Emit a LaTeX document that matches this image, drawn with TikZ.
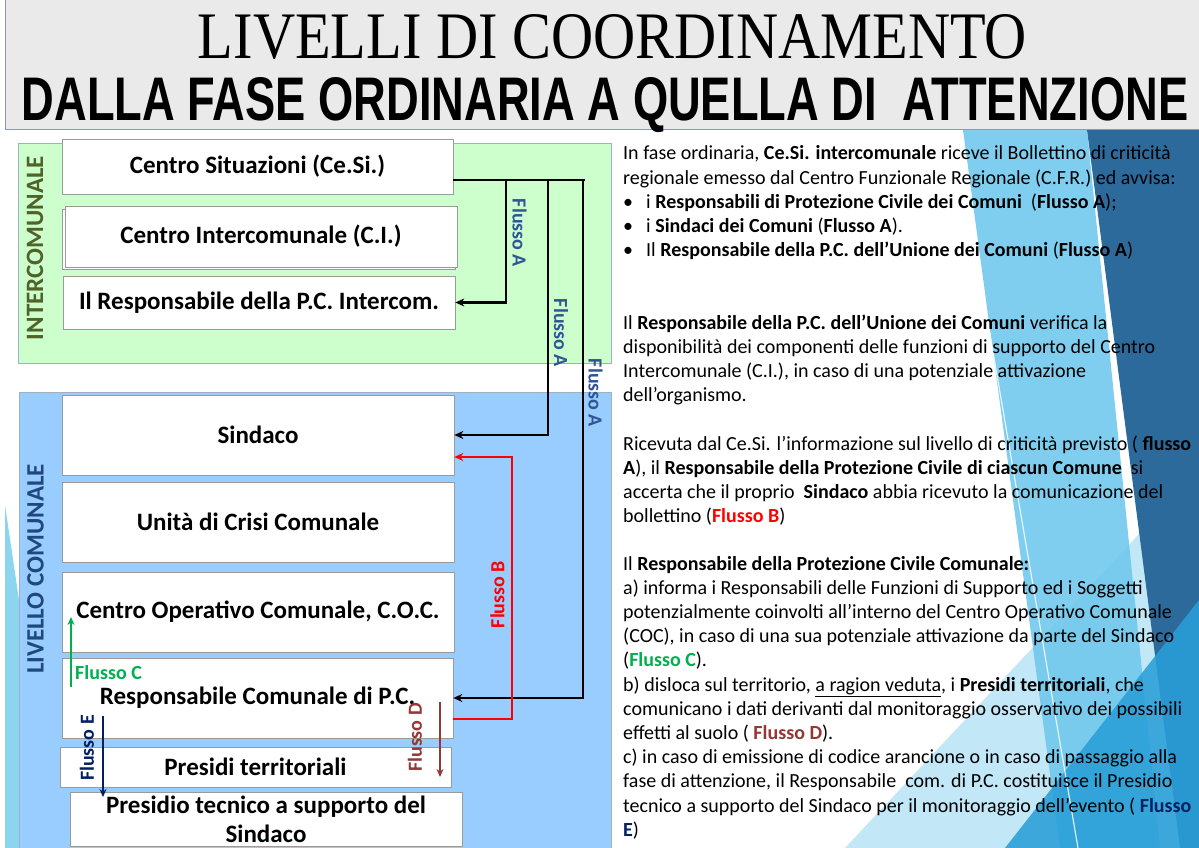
\documentclass[tikz,border=0pt]{standalone}
\usepackage{fontspec}
\usepackage{graphicx}
\setmainfont{Carlito}
\newfontfamily\titleserif{Liberation Serif}
\newfontfamily\titlesans{Liberation Sans}
\usetikzlibrary{arrows.meta,calc}
\definecolor{titlebg}{HTML}{EAEAEA}
\definecolor{titleline}{HTML}{8A9AB0}
\definecolor{greenfill}{HTML}{CCFFCC}
\definecolor{bluefill}{HTML}{99CCFF}
\definecolor{outerline}{HTML}{9DB0C6}
\definecolor{boxline}{HTML}{9A9A9A}
\definecolor{interc}{HTML}{4F6228}
\definecolor{livello}{HTML}{1F497D}
\definecolor{flowA}{HTML}{2F5597}
\definecolor{flowB}{HTML}{FF0000}
\definecolor{flowC}{HTML}{00B050}
\definecolor{flowD}{HTML}{953735}
\definecolor{flowE}{HTML}{002060}
\definecolor{decoWedge}{HTML}{C2E7F7}
\definecolor{decoBand}{HTML}{72C9EE}
\definecolor{decoMid}{HTML}{2A9FD8}
\definecolor{decoDark}{HTML}{2C6A9C}
\definecolor{decoLeft}{HTML}{8CD5EF}
\newcommand\mybullet{\makebox[23pt][l]{•}}
\begin{document}
\begin{tikzpicture}[x=1pt,y=-1pt,
  boxnode/.style={draw=boxline, fill=white, line width=0.7pt, inner sep=0pt,
    font=\bfseries\fontsize{25}{29}\selectfont, align=center},
  sidelabel/.style={rotate=90, inner sep=0pt, font=\bfseries\fontsize{25}{30}\selectfont},
  flowlabel/.style={inner sep=0pt, font=\bfseries\fontsize{20}{24}\selectfont},
  rtext/.style={anchor=base west, inner sep=0pt, font=\fontsize{20}{24.2}\selectfont},
  blackflow/.style={draw=black, line width=2.6pt, -{Stealth[length=9pt,width=8pt]}},
  redflow/.style={draw=flowB, line width=2.3pt, -{Stealth[length=9pt,width=8pt]}},
  thinflow/.style={line width=2pt, -{Stealth[length=8pt,width=7pt]}}
]
\useasboundingbox (0,0) rectangle (1199,848);
\fill[white] (0,0) rectangle (1199,848);

% background decorations
\fill[decoWedge] (845,848) -- (1199,470) -- (1199,848) -- cycle;
\fill[decoBand, opacity=0.9] (963,130) -- (1087,130) -- (1160,848) -- (1060,848) -- cycle;
\fill[decoDark] (1087,130) -- (1199,130) -- (1199,848) -- (1180,848) -- cycle;
\fill[decoMid, opacity=0.88] (1005,848) -- (1199,600) -- (1199,848) -- cycle;
\draw[white, line width=1.2pt, opacity=0.8] (955,130) -- (1078,848);
\fill[decoLeft] (5,505) -- (19,600) -- (19,848) -- (5,848) -- cycle;

% title bar
\fill[titlebg] (5,0) rectangle (1199,130);
\draw[titleline, line width=1pt] (5,0) -- (5,130) -- (1199,130);
\node[anchor=base, inner sep=0pt] (title1) at (612.5,59)
  {\resizebox{829pt}{44pt}{\titleserif LIVELLI DI COORDINAMENTO}};
\node[anchor=base, inner sep=0pt] (title2) at (605,121)
  {\resizebox{1166pt}{43pt}{\titlesans\bfseries DALLA FASE ORDINARIA A QUELLA DI\ \ ATTENZIONE}};

% level panels
\draw[outerline, fill=greenfill, line width=0.8pt] (18,143) rectangle (611,363);
\draw[outerline, fill=bluefill, line width=0.8pt] (19,392) rectangle (611,852);
\node[sidelabel, text=interc] (lblinter) at (35,248) {INTERCOMUNALE};
\node[sidelabel, text=livello] (lblliv) at (35.5,569) {LIVELLO COMUNALE};

% boxes
\node[boxnode, minimum width=391pt, minimum height=55pt] (cesi) at (257.5,166.5) {Centro Situazioni (Ce.Si.)};
\draw[boxline, fill=white, line width=0.7pt] (62,209) rectangle (455,269);
\node[boxnode, minimum width=392pt, minimum height=61pt] (ci) at (261,236.5) {Centro Intercomunale (C.I.)};
\node[boxnode, minimum width=392pt, minimum height=53pt] (respi) at (259,302.5) {Il Responsabile della P.C. Intercom.};
\node[boxnode, minimum width=392pt, minimum height=80pt] (sind) at (258,435) {Sindaco};
\node[boxnode, minimum width=392pt, minimum height=80pt] (unita) at (258,522) {Unità di Crisi Comunale};
\node[boxnode, minimum width=392pt, minimum height=80pt] (coc) at (258,612) {Centro Operativo Comunale, C.O.C.};
\node[boxnode, minimum width=391pt, minimum height=80pt] (respc) at (257.5,698) {Responsabile Comunale di P.C.};
\node[boxnode, minimum width=391pt, minimum height=40pt] (pres) at (255.5,767) {Presidi territoriali};
\node[boxnode, minimum width=392pt, minimum height=54pt] (prtec) at (266,819) {Presidio tecnico a supporto del\\Sindaco};

% Flusso A (black)
\coordinate (jA) at (585,180);
\coordinate (b1) at (506,180);
\coordinate (b2) at (548,180);
\coordinate (b3) at (583,180);
\draw[black, line width=2.6pt] (cesi.east |- jA) -- (jA);
\draw[blackflow] (b1) |- (respi.east);
\draw[blackflow] (b2) |- (sind.east);
\draw[blackflow] (b3) |- (respc.east);
\node[flowlabel, text=flowA, rotate=-90] (fa1) at (519.5,233) {Flusso A};
\node[flowlabel, text=flowA, rotate=-90] (fa2) at (561,333) {Flusso A};
\node[flowlabel, text=flowA, rotate=-90] (fa3) at (595.5,393) {Flusso A};

% Flusso B (red)
\coordinate (rB) at (512,457);
\draw[redflow] ($(respc.east)+(0,21)$) -| (rB) -- (sind.east |- rB);
\node[flowlabel, text=flowB, rotate=90] (fb) at (497.5,594.5) {Flusso B};

% Flusso C (green)
\coordinate (c1) at (71,687);
\coordinate (c2) at (71,617);
\draw[thinflow, draw=flowC] (c1) -- (c2);
\node[flowlabel, text=flowC, anchor=west] (fc) at (75,672.5) {Flusso C};

% Flusso D
\coordinate (d1) at (440,702);
\coordinate (d2) at (440,777);
\draw[thinflow, draw=flowD] (d1) -- (d2);
\node[flowlabel, text=flowD, rotate=90] (fd) at (415,737.5) {Flusso D};

% Flusso E
\coordinate (e1) at (103,716);
\coordinate (e2) at (103,797);
\draw[thinflow, draw=flowE] (e1) -- (e2);
\node[flowlabel, text=flowE, rotate=90] (fe) at (87,748) {Flusso E};

% right-hand text
\node[rtext] (r1) at (623,160) {In fase ordinaria, \textbf{Ce.Si. intercomunale} riceve il Bollettino di criticità};
\node[rtext] (r2) at (623,184.2) {regionale emesso dal Centro Funzionale Regionale (C.F.R.) ed avvisa:};
\node[rtext] (r3) at (623,208.4) {\mybullet i \textbf{Responsabili di Protezione Civile dei Comuni}\ \ (\textbf{Flusso A});};
\node[rtext] (r4) at (623,232.6) {\mybullet i \textbf{Sindaci dei Comuni} (\textbf{Flusso A}).};
\node[rtext] (r5) at (623,256.8) {\mybullet Il \textbf{Responsabile della P.C. dell’Unione dei Comuni} (\textbf{Flusso A})};
\node[rtext] (r6) at (623,329) {Il \textbf{Responsabile della P.C. dell’Unione dei Comuni} verifica la};
\node[rtext] (r7) at (623,353.2) {disponibilità dei componenti delle funzioni di supporto del Centro};
\node[rtext] (r8) at (623,377.4) {Intercomunale (C.I.), in caso di una potenziale attivazione};
\node[rtext] (r9) at (623,401.6) {dell’organismo.};
\node[rtext] (r10) at (623,450) {Ricevuta dal Ce.Si. l’informazione sul livello di criticità previsto ( \textbf{flusso}};
\node[rtext] (r11) at (623,474.2) {\textbf{A}), il \textbf{Responsabile della Protezione Civile di ciascun Comune}\ \ si};
\node[rtext] (r12) at (623,498.4) {accerta che il proprio\ \ \textbf{Sindaco} abbia ricevuto la comunicazione del};
\node[rtext] (r13) at (623,522.6) {bollettino (\textcolor{flowB}{\textbf{Flusso B}})};
\node[rtext] (r14) at (623,570) {Il \textbf{Responsabile della Protezione Civile Comunale:}};
\node[rtext] (r15) at (623,594.2) {a) informa i Responsabili delle Funzioni di Supporto ed i Soggetti};
\node[rtext] (r16) at (623,618.4) {potenzialmente coinvolti all’interno del Centro Operativo Comunale};
\node[rtext] (r17) at (623,642.6) {(COC), in caso di una sua potenziale attivazione da parte del Sindaco};
\node[rtext] (r18) at (623,666.8) {(\textcolor{flowC}{\textbf{Flusso C}}).};
\node[rtext] (r19) at (623,691) {b) disloca sul territorio, \underline{a ragion veduta}, i \textbf{Presidi territoriali}, che};
\node[rtext] (r20) at (623,715.2) {comunicano i dati derivanti dal monitoraggio osservativo dei possibili};
\node[rtext] (r21) at (623,739.4) {effetti al suolo ( \textcolor{flowD}{\textbf{Flusso D}}).};
\node[rtext] (r22) at (623,763.6) {c) in caso di emissione di codice arancione o in caso di passaggio alla};
\node[rtext] (r23) at (623,787.8) {fase di attenzione, il Responsabile\ \ com. di P.C. costituisce il Presidio};
\node[rtext] (r24) at (623,812) {tecnico a supporto del Sindaco per il monitoraggio dell’evento ( \textcolor{flowE}{\textbf{Flusso}}};
\node[rtext] (r25) at (623,836.2) {\textcolor{flowE}{\textbf{E}})};
\end{tikzpicture}
\end{document}
